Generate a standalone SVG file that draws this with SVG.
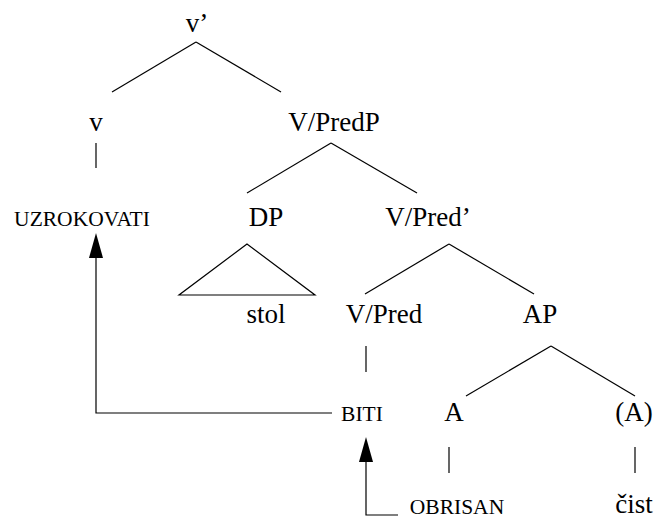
<svg xmlns="http://www.w3.org/2000/svg" width="654" height="520" viewBox="0 0 654 520">
<style>
text{font-family:'Liberation Serif','Times New Roman',serif;fill:#000;text-anchor:middle}
.lbl{font-size:27px}
.sc{font-size:21.5px}
.e{stroke:#000;stroke-width:1.2;fill:none}
.ah{fill:#000}
</style>
<rect width="654" height="520" fill="#fff"/>
<g id="connectors">
<line class="e" x1="196" y1="42" x2="112" y2="92"/>
<line class="e" x1="196" y1="42" x2="281" y2="92"/>
<line class="e" x1="96" y1="143" x2="96" y2="168"/>
<line class="e" x1="331" y1="143" x2="247" y2="193"/>
<line class="e" x1="331" y1="143" x2="417" y2="193"/>
<polygon class="e" points="247,244 179,295 315,295"/>
<line class="e" x1="449" y1="244" x2="365" y2="294"/>
<line class="e" x1="449" y1="244" x2="534" y2="294"/>
<line class="e" x1="366" y1="346" x2="366" y2="372"/>
<line class="e" x1="551" y1="346" x2="466" y2="396"/>
<line class="e" x1="551" y1="346" x2="635" y2="396"/>
<line class="e" x1="449" y1="447" x2="449" y2="473"/>
<line class="e" x1="635" y1="447" x2="635" y2="473"/>
<path class="e" d="M332,413 H96 V258"/>
<polygon class="ah" points="96,233 103,258 89,258"/>
<path class="e" d="M398,515 H366 V462"/>
<polygon class="ah" points="366,437 373,462 359,462"/>
</g>
<g id="n-vbar"><text class="lbl" x="197" y="32">v’</text></g>
<g id="n-v"><text class="lbl" x="96" y="131">v</text></g>
<g id="n-vpredp"><text class="lbl" x="334" y="131">V/PredP</text></g>
<g id="n-uzrokovati"><text class="sc" x="82" y="226">UZROKOVATI</text></g>
<g id="n-dp"><text class="lbl" x="266" y="226">DP</text></g>
<g id="n-vpredbar"><text class="lbl" x="428" y="226">V/Pred’</text></g>
<g id="n-stol"><text class="lbl" x="266" y="323">stol</text></g>
<g id="n-vpred"><text class="lbl" x="384" y="323">V/Pred</text></g>
<g id="n-ap"><text class="lbl" x="540" y="323">AP</text></g>
<g id="n-biti"><text class="sc" x="362" y="421">BITI</text></g>
<g id="n-a"><text class="lbl" x="454" y="421">A</text></g>
<g id="n-a2"><text class="lbl" x="634" y="421">(A)</text></g>
<g id="n-obrisan"><text class="sc" x="457" y="514">OBRISAN</text></g>
<g id="n-cist"><text class="lbl" x="634" y="513">čist</text></g>
</svg>
